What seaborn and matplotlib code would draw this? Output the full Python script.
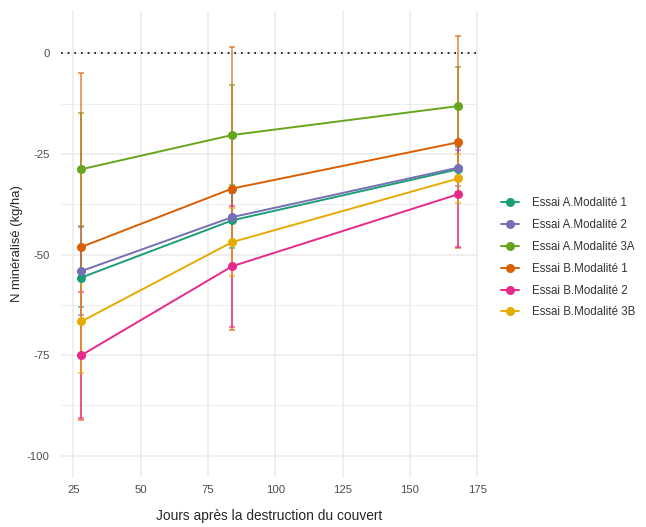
import matplotlib
matplotlib.use("Agg")
import matplotlib.pyplot as plt
import seaborn as sns
import pandas as pd

# data
days = [28, 84, 168]
modalites = ["Essai A.Modalité 1", "Essai A.Modalité 2", "Essai A.Modalité 3A",
             "Essai B.Modalité 1", "Essai B.Modalité 2", "Essai B.Modalité 3B"]
a1_mean = [-55.7, -41.5, -28.8]
a1_sd = [7.4, 6.8, 5.6]
a2_mean = [-54.1, -40.7, -28.4]
a2_sd = [11.0, 6.0, 4.5]
a3a_mean = [-28.8, -20.3, -13.1]
a3a_sd = [14.0, 12.5, 9.7]
b1_mean = [-48.1, -33.6, -22.1]
b1_sd = [43.1, 35.2, 26.3]
b2_mean = [-75.0, -52.9, -35.0]
b2_sd = [15.7, 15.0, 13.1]
b3b_mean = [-66.6, -46.9, -31.1]
b3b_sd = [12.8, 8.4, 6.2]

colors = ["#1B9E77", "#7570B3", "#66A61E", "#D95F02", "#E7298A", "#E6AB02"]

means = [a1_mean, a2_mean, a3a_mean, b1_mean, b2_mean, b3b_mean]
sds = [a1_sd, a2_sd, a3a_sd, b1_sd, b2_sd, b3b_sd]

rows = []
for m, mu, sd in zip(modalites, means, sds):
    for d, v, s in zip(days, mu, sd):
        rows.append({"jours": d, "N": v, "sd": s, "modalite": m})
df = pd.DataFrame(rows)

sns.set_theme(style="whitegrid")
plt.rcParams["font.family"] = ["Liberation Sans", "DejaVu Sans"]

fig = plt.figure(figsize=(6.46, 5.27), dpi=100)
ax = fig.add_axes([0.0944, 0.0954, 0.6455, 0.8836])

ax.axhline(0, color="black", linestyle=(0, (1, 3)), linewidth=1.2, zorder=1)

palette = dict(zip(modalites, colors))
for m in modalites:
    sub = df[df["modalite"] == m]
    ax.errorbar(sub["jours"], sub["N"], yerr=sub["sd"], fmt="none",
                ecolor=palette[m], alpha=0.65, elinewidth=1.3, capsize=2.5,
                capthick=1.3, zorder=2)

sns.lineplot(data=df, x="jours", y="N", hue="modalite", hue_order=modalites,
             palette=palette, marker="o", markersize=6.5, markeredgewidth=0,
             linewidth=1.4, ax=ax, zorder=3)

ax.set_xlim(20.4, 175.3)
ax.set_ylim(-105.2, 10.5)
ax.set_xticks([25, 50, 75, 100, 125, 150, 175])
ax.set_yticks([0, -25, -50, -75, -100])
ax.set_yticks([-12.5, -37.5, -62.5, -87.5], minor=True)
ax.set_yticklabels(["0", "-25", "-50", "-75", "-100"])
ax.grid(which="major", color="#EBEBEB", linewidth=1.1)
ax.grid(which="minor", axis="y", color="#EBEBEB", linewidth=0.6)
ax.tick_params(axis="both", which="both", length=0, labelsize=8.2,
               labelcolor="#4D4D4D")
ax.tick_params(axis="y", pad=8)
ax.tick_params(axis="x", pad=6)
for s in ax.spines.values():
    s.set_visible(False)

ax.set_xlabel("Jours après la destruction du couvert", fontsize=9.9, labelpad=10)
ax.set_ylabel("N minéralisé (kg/ha)", fontsize=9.4, labelpad=3)

leg = ax.legend(title=None, loc="center left", bbox_to_anchor=(1.03, 0.47),
                frameon=False, fontsize=8.3, handlelength=1.6,
                labelspacing=0.85, handletextpad=1.1)
for t in leg.get_texts():
    t.set_color("#333333")

fig.savefig("out.png", dpi=100)
